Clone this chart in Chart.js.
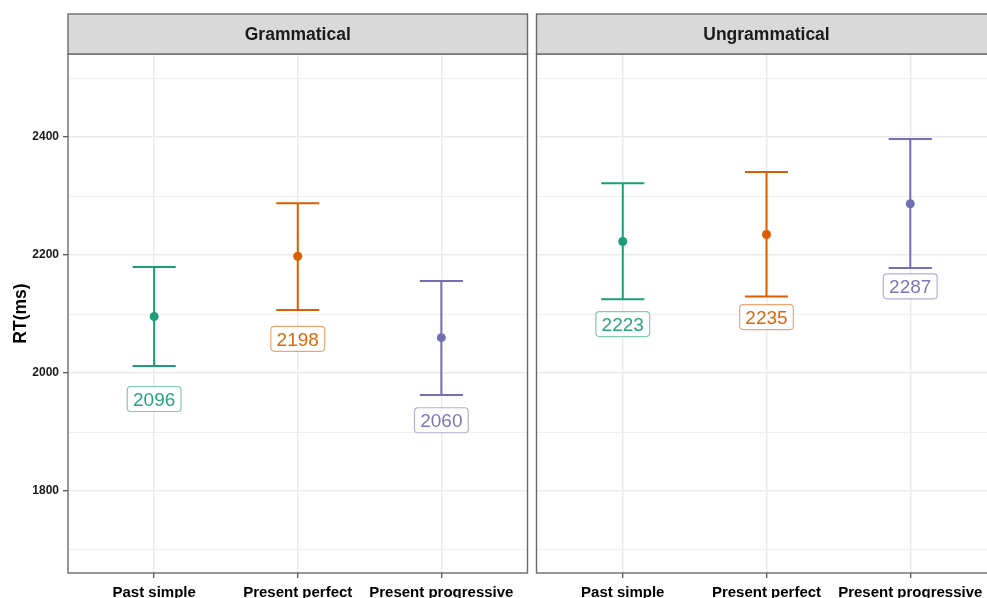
<!DOCTYPE html>
<html>
<head>
<meta charset="utf-8">
<script src="https://cdn.jsdelivr.net/npm/chart.js@4.4.1/dist/chart.umd.min.js"></script>
<style>
  html, body { margin: 0; padding: 0; background: #ffffff; overflow: hidden; }
  #wrap { position: relative; width: 987px; height: 598px; overflow: hidden; }
  #wrap canvas { position: absolute; top: 0; }
</style>
</head>
<body>
<div id="wrap">
  <canvas id="gram" width="532" height="598" style="left:0px"></canvas>
  <canvas id="ungram" width="470" height="598" style="left:532px"></canvas>
</div>
<script>
// Reading times by tense, split by sentence condition
const conditions = ['Grammatical', 'Ungrammatical'];
const tenses = ['Past simple', 'Present perfect', 'Present progressive'];

const meanGrammatical  = [2096, 2198, 2060];
const lowerGrammatical = [2012, 2107, 1963];
const upperGrammatical = [2180, 2288, 2156];

const meanUngrammatical  = [2223, 2235, 2287];
const lowerUngrammatical = [2125, 2130, 2178];
const upperUngrammatical = [2322, 2341, 2397];

const yBreaks = [1700, 1800, 1900, 2000, 2100, 2200, 2300, 2400, 2500];
const yLabelled = [1800, 2000, 2200, 2400];

const tenseColors = ['#1B9E77', '#D95F02', '#7570B3'];

const FONT = '"Liberation Sans", Arial, Helvetica, sans-serif';

function withAlpha(hex, a) {
  const n = parseInt(hex.slice(1), 16);
  return `rgba(${(n >> 16) & 255},${(n >> 8) & 255},${n & 255},${a})`;
}

function roundRect(ctx, x, y, w, h, r) {
  ctx.beginPath();
  ctx.moveTo(x + r, y);
  ctx.lineTo(x + w - r, y);
  ctx.arcTo(x + w, y, x + w, y + r, r);
  ctx.lineTo(x + w, y + h - r);
  ctx.arcTo(x + w, y + h, x + w - r, y + h, r);
  ctx.lineTo(x + r, y + h);
  ctx.arcTo(x, y + h, x, y + h - r, r);
  ctx.lineTo(x, y + r);
  ctx.arcTo(x, y, x + r, y, r);
  ctx.closePath();
}

// Facet strip, error bars, value labels and panel frame
const facetPlugin = {
  id: 'facet',
  beforeDatasetsDraw(chart, args, opts) {
    const { ctx, scales: { x, y } } = chart;
    ctx.save();
    ctx.lineWidth = 2;
    ctx.lineCap = 'butt';
    opts.means.forEach((m, i) => {
      const cx = x.getPixelForValue(i + 1);
      const x0 = x.getPixelForValue(i + 1 - 0.15);
      const x1 = x.getPixelForValue(i + 1 + 0.15);
      const yl = y.getPixelForValue(opts.lower[i]);
      const yu = y.getPixelForValue(opts.upper[i]);
      ctx.strokeStyle = tenseColors[i];
      ctx.beginPath();
      ctx.moveTo(cx, yu); ctx.lineTo(cx, yl);
      ctx.moveTo(x0, yu); ctx.lineTo(x1, yu);
      ctx.moveTo(x0, yl); ctx.lineTo(x1, yl);
      ctx.stroke();
    });
    ctx.restore();
  },
  afterDatasetsDraw(chart, args, opts) {
    const { ctx, chartArea: a, scales: { x, y } } = chart;
    ctx.save();
    // value labels below each interval
    ctx.font = '19px ' + FONT;
    ctx.textAlign = 'center';
    ctx.textBaseline = 'alphabetic';
    opts.means.forEach((m, i) => {
      const cx = x.getPixelForValue(i + 1);
      const cy = y.getPixelForValue(m - 140);
      const txt = String(m);
      const w = ctx.measureText(txt).width + 11.5;
      const h = 25;
      roundRect(ctx, cx - w / 2, cy - h / 2, w, h, 3.5);
      ctx.fillStyle = '#ffffff';
      ctx.fill();
      ctx.lineWidth = 1.2;
      ctx.strokeStyle = withAlpha(tenseColors[i], 0.55);
      ctx.stroke();
      ctx.fillStyle = withAlpha(tenseColors[i], 0.95);
      ctx.fillText(txt, cx, cy + 0.358 * 19);
    });
    // panel frame
    ctx.strokeStyle = '#6b6b6b';
    ctx.lineWidth = 1.4;
    ctx.strokeRect(a.left, a.top, a.right - a.left, a.bottom - a.top);
    // strip
    ctx.fillStyle = '#D9D9D9';
    ctx.fillRect(a.left, 14, a.right - a.left, a.top - 14);
    ctx.strokeRect(a.left, 14, a.right - a.left, a.top - 14);
    ctx.fillStyle = '#1A1A1A';
    ctx.font = 'bold 17.5px ' + FONT;
    ctx.textAlign = 'center';
    ctx.textBaseline = 'middle';
    ctx.fillText(opts.title, (a.left + a.right) / 2, (14 + a.top) / 2 + 1);
    ctx.restore();
  }
};

function makePanel(id, title, means, lower, upper, showY, pad) {
  const isMajor = (v) => yLabelled.includes(v);
  return new Chart(document.getElementById(id), {
    type: 'scatter',
    data: {
      datasets: [{
        data: means.map((m, i) => ({ x: i + 1, y: m })),
        pointRadius: 4.5,
        pointHoverRadius: 4.5,
        pointBorderWidth: 0,
        pointBackgroundColor: tenseColors,
        showLine: false
      }]
    },
    plugins: [facetPlugin],
    options: {
      responsive: false,
      animation: false,
      events: [],
      layout: { padding: pad },
      plugins: {
        legend: { display: false },
        tooltip: { enabled: false },
        facet: { title, means, lower, upper }
      },
      scales: {
        x: {
          type: 'linear',
          min: 0.4,
          max: 3.6,
          afterBuildTicks: (s) => { s.ticks = tenses.map((t, i) => ({ value: i + 1 })); },
          afterFit: (s) => { s.height = 25; },
          border: { display: false },
          grid: {
            color: '#EBEBEB',
            lineWidth: 1.5,
            tickLength: 5,
            tickColor: '#333333',
            tickWidth: 1.1
          },
          ticks: {
            autoSkip: false,
            maxRotation: 0,
            padding: 6,
            color: '#000000',
            font: { family: FONT, size: 15, weight: 'bold' },
            callback: (v) => tenses[v - 1]
          }
        },
        y: {
          type: 'linear',
          min: 1661,
          max: 2541,
          afterBuildTicks: (s) => { s.ticks = yBreaks.map((v) => ({ value: v })); },
          afterFit: (s) => { s.width = showY ? 57 : 0; },
          border: { display: false },
          grid: {
            color: '#EBEBEB',
            lineWidth: (c) => (c.tick && isMajor(c.tick.value)) ? 1.5 : 0.8,
            drawTicks: showY,
            tickLength: 5,
            tickColor: (c) => (c.tick && isMajor(c.tick.value)) ? '#333333' : 'rgba(0,0,0,0)',
            tickWidth: 1.1
          },
          ticks: {
            display: showY,
            padding: 4,
            color: '#1A1A1A',
            font: { family: FONT, size: 12, weight: 'bold' },
            callback: (v) => isMajor(v) ? String(v) : ''
          },
          title: {
            display: showY,
            text: 'RT(ms)',
            color: '#000000',
            font: { family: FONT, size: 17.5, weight: 'bold' },
            padding: { top: 0, bottom: 0 }
          }
        }
      }
    }
  });
}

makePanel('gram', conditions[0], meanGrammatical, lowerGrammatical, upperGrammatical, true,
  { top: 54, left: 11, right: 3.5, bottom: 0 });
makePanel('ungram', conditions[1], meanUngrammatical, lowerUngrammatical, upperUngrammatical, false,
  { top: 54, left: 3.7, right: 5.5, bottom: 0 });
</script>
</body>
</html>
